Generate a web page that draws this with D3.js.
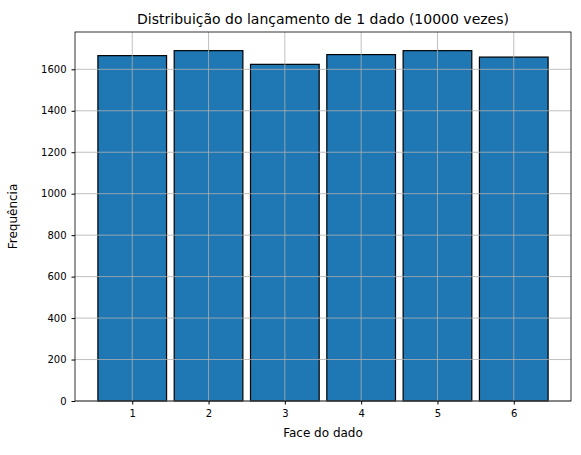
<!DOCTYPE html>
<html><head><meta charset="utf-8">
<script src="https://cdn.jsdelivr.net/npm/d3@7"></script>
<style>body{margin:0;background:#fff}text{font-family:"DejaVu Sans",sans-serif}</style>
</head><body><div id="chart"></div>
<script>
var faces = [1, 2, 3, 4, 5, 6];
var counts = [1666, 1690, 1624, 1671, 1690, 1659];
var yTicks = [0, 200, 400, 600, 800, 1000, 1200, 1400, 1600];

var margin = { top: 32, right: 10, bottom: 54, left: 75 },
    width = 571 - margin.left,
    height = 401 - margin.top;

var svg = d3.select("#chart").append("svg")
    .attr("width", 581).attr("height", 455)
    .append("g")
    .attr("transform", "translate(" + margin.left + "," + margin.top + ")");

var x = d3.scaleLinear().domain([0.25, 6.75]).range([0, width]);
var y = d3.scaleLinear().domain([0, 1780]).range([height, 0]);

// bars
svg.selectAll("rect.bar").data(faces).enter().append("rect")
    .attr("x", function(d) { return x(d - 0.45); })
    .attr("width", x(0.9) - x(0))
    .attr("y", function(d, i) { return y(counts[i]); })
    .attr("height", function(d, i) { return height - y(counts[i]); })
    .attr("fill", "#1f77b4")
    .attr("stroke", "#000").attr("stroke-width", 1.2);

// grid on top
var grid = svg.append("g").attr("stroke", "#b0b0b0").attr("stroke-width", 0.8);
faces.forEach(function(d) {
    grid.append("line").attr("x1", x(d)).attr("x2", x(d)).attr("y1", 0).attr("y2", height);
});
yTicks.forEach(function(d) {
    grid.append("line").attr("x1", 0).attr("x2", width).attr("y1", y(d)).attr("y2", y(d));
});

svg.append("g").attr("transform", "translate(0," + height + ")")
    .call(d3.axisBottom(x).tickValues(faces).tickFormat(d3.format("d")).tickSize(3.5).tickPadding(5))
    .call(function(g) { g.select(".domain").remove(); g.selectAll("text").attr("font-size", 10).attr("fill", "#000"); });
svg.append("g")
    .call(d3.axisLeft(y).tickValues(yTicks).tickFormat(d3.format("d")).tickSize(3.5).tickPadding(5))
    .call(function(g) { g.select(".domain").remove(); g.selectAll("text").attr("font-size", 10).attr("fill", "#000"); });

svg.append("rect").attr("width", width).attr("height", height)
    .attr("fill", "none").attr("stroke", "#000").attr("stroke-width", 0.8);

svg.append("text").attr("x", width / 2).attr("y", -8).attr("text-anchor", "middle")
    .attr("font-size", 14).text("Distribuição do lançamento de 1 dado (10000 vezes)");
svg.append("text").attr("x", width / 2).attr("y", height + 36).attr("text-anchor", "middle")
    .attr("font-size", 12).text("Face do dado");
svg.append("text").attr("transform", "translate(-58," + height / 2 + ") rotate(-90)")
    .attr("text-anchor", "middle").attr("font-size", 12).text("Frequência");
</script></body></html>
